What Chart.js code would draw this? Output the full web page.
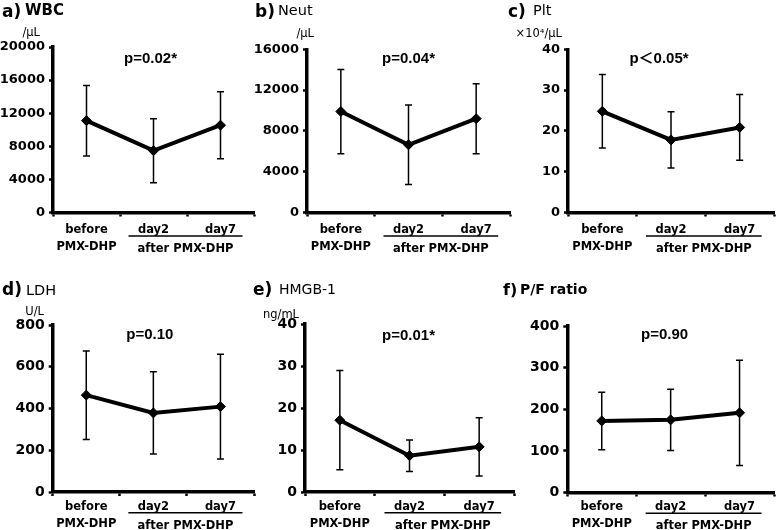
<!DOCTYPE html>
<html><head><meta charset="utf-8">
<script src="https://cdn.jsdelivr.net/npm/chart.js@4"></script>
<style>
html,body{margin:0;padding:0;background:#fff;}
#wrap{position:relative;width:780px;height:530px;overflow:hidden;background:#fff}
canvas{position:absolute}
svg{position:absolute;left:0;top:0}
</style></head><body>
<div id="wrap">
<canvas id="c0"></canvas>
<canvas id="c1"></canvas>
<canvas id="c2"></canvas>
<canvas id="c3"></canvas>
<canvas id="c4"></canvas>
<canvas id="c5"></canvas>
<svg width="780" height="530" font-family="DejaVu Sans" fill="#000">
  <text x="2" y="17" font-weight="bold" font-size="17">a)</text>
  <text x="25" y="14.5" font-weight="bold" font-size="15">WBC</text>
  <text x="255" y="17" font-weight="bold" font-size="17">b)</text>
  <text x="278" y="15" font-size="14.5">Neut</text>
  <text x="508" y="17" font-weight="bold" font-size="17">c)</text>
  <text x="533" y="14.5" font-size="14.5">Plt</text>
  <text x="2" y="295" font-weight="bold" font-size="17">d)</text>
  <text x="26" y="295" font-size="14.5">LDH</text>
  <text x="253" y="295" font-weight="bold" font-size="17">e)</text>
  <text x="279" y="294" font-size="14">HMGB-1</text>
  <text x="503" y="295" font-weight="bold" font-size="16">f)</text>
  <text x="520" y="294" font-weight="bold" font-size="14">P/F ratio</text>
  <text x="40" y="36" text-anchor="end" font-size="11.5">/μL</text>
  <text x="314" y="37" text-anchor="end" font-size="11.5">/μL</text>
  <text x="562" y="37" text-anchor="end" font-size="11.5">×10⁴/μL</text>
  <text x="44" y="315" text-anchor="end" font-size="11.5">U/L</text>
  <text x="299" y="318" text-anchor="end" font-size="11.5">ng/mL</text>
</svg>
</div>
<script>
// ---- data ----
const categories = [['before','PMX-DHP'], 'day2', 'day7'];
const groupLabel = 'after PMX-DHP';
const wbcMean  = [11100, 7470, 10550];
const wbcSD    = [4260, 3860, 4040];
const neutMean = [9900, 6640, 9200];
const neutSD   = [4130, 3900, 3430];
const pltMean  = [24.8, 17.8, 20.85];
const pltSD    = [9.0, 6.9, 8.05];
const ldhMean  = [464, 379, 409];
const ldhSD    = [212, 197, 251];
const hmgbMean = [17.1, 8.65, 10.75];
const hmgbSD   = [11.8, 3.75, 6.95];
const pfMean   = [172, 174.5, 191.5];
const pfSD     = [69, 73.5, 126.5];
const yMax  = [20000, 16000, 40, 800, 40, 400];
const yStep = [4000, 4000, 10, 200, 10, 100];
const pValues = ['p=0.02*', 'p=0.04*', 'p\uFF1C0.05*', 'p=0.10', 'p=0.01*', 'p=0.90'];

const means = [wbcMean, neutMean, pltMean, ldhMean, hmgbMean, pfMean];
const sds   = [wbcSD, neutSD, pltSD, ldhSD, hmgbSD, pfSD];

// ---- layout (coords relative to each 260x265 cell) ----
const layout = [
  {col:0, row:0, L:53,   R:257, T:47,   B:212.5, pdx:-3,  pdy:15.5},
  {col:1, row:0, L:47,   R:250, T:49.3, B:212.5, pdx:0,   pdy:13.5},
  {col:2, row:0, L:48,   R:257, T:49.3, B:212.5, pdx:-12, pdy:13.5},
  {col:0, row:1, L:52.7, R:259, T:60,   B:227,   pdx:-3.5,pdy:13.5},
  {col:1, row:1, L:45,   R:255, T:59,   B:227,   pdx:-1,  pdy:16},
  {col:2, row:1, L:47.3, R:254, T:61,   B:227.5, pdx:-6,  pdy:12.5}
];

function makePlugin(k) {
  const lay = layout[k];
  return {
    id: 'annot' + k,
    beforeDatasetsDraw(chart) {
      const {ctx, scales: {x, y}} = chart;
      ctx.save();
      ctx.strokeStyle = '#000';
      ctx.lineWidth = 1.5;
      means[k].forEach((m, i) => {
        const px = x.getPixelForValue(i);
        const t = y.getPixelForValue(m + sds[k][i]);
        const b = y.getPixelForValue(m - sds[k][i]);
        ctx.beginPath();
        ctx.moveTo(px, t); ctx.lineTo(px, b);
        ctx.moveTo(px - 3.5, t); ctx.lineTo(px + 3.5, t);
        ctx.moveTo(px - 3.5, b); ctx.lineTo(px + 3.5, b);
        ctx.stroke();
      });
      ctx.restore();
    },
    afterDraw(chart) {
      const {ctx, chartArea, scales: {x}} = chart;
      ctx.save();
      ctx.fillStyle = '#000';
      ctx.strokeStyle = '#000';
      ctx.font = 'bold 15px "Liberation Sans", Arial, "Noto Sans CJK JP", sans-serif';
      ctx.textAlign = 'center';
      ctx.textBaseline = 'alphabetic';
      ctx.fillText(pValues[k], x.getPixelForValue(1) + lay.pdx, chartArea.top + lay.pdy);
      const ly = chartArea.bottom + (lay.row === 0 ? 23.5 : 20.7);
      const x1 = x.getPixelForValue(1) - 25, x2 = x.getPixelForValue(2) + 22;
      ctx.lineWidth = 1.6;
      ctx.beginPath(); ctx.moveTo(x1, ly); ctx.lineTo(x2, ly); ctx.stroke();
      ctx.font = 'bold 11.5px "DejaVu Sans", sans-serif';
      ctx.fillText(groupLabel, (x1 + x2) / 2, ly + 16);
      ctx.restore();
    }
  };
}

for (let k = 0; k < 6; k++) {
  const lay = layout[k];
  const ox = lay.col === 0 ? 0 : 30;          // extra room on the left for tick labels
  const cw = 260 + ox, ch = 265;
  const cv = document.getElementById('c' + k);
  cv.width = cw; cv.height = ch;
  cv.style.width = cw + 'px'; cv.style.height = ch + 'px';
  cv.style.left = (lay.col * 260 - ox) + 'px';
  cv.style.top = (lay.row * 265) + 'px';
  const Lc = lay.L + ox, Rc = lay.R + ox;
  const tickFont = {family: 'DejaVu Sans', weight: 'bold', size: lay.row === 0 ? 13 : 14};
  new Chart(cv, {
    type: 'line',
    data: {
      labels: categories,
      datasets: [{
        data: means[k],
        borderColor: '#000',
        backgroundColor: '#000',
        borderWidth: 4,
        pointStyle: 'rectRot',
        pointRadius: 5,
        pointBorderWidth: 1,
        pointBackgroundColor: '#000',
        pointBorderColor: '#000',
        tension: 0,
        clip: false
      }]
    },
    options: {
      responsive: false,
      devicePixelRatio: 1,
      animation: false,
      events: [],
      layout: {padding: {left: 0, top: lay.T, right: cw - Rc, bottom: 0}},
      plugins: {legend: {display: false}, tooltip: {enabled: false}, title: {display: false}},
      scales: {
        x: {
          type: 'category',
          offset: true,
          afterFit: s => { s.height = ch - lay.B; },
          grid: {display: true, drawOnChartArea: false, drawTicks: true, tickLength: 4, tickWidth: 2.5, tickColor: '#000', offset: true},
          border: {display: true, color: '#000', width: 3.5},
          ticks: {color: '#000', font: {family: 'DejaVu Sans', weight: 'bold', size: 11.5, lineHeight: 1.5}, padding: lay.row === 0 ? 4.7 : 2, maxRotation: 0, autoSkip: false}
        },
        y: {
          min: 0, max: yMax[k],
          afterFit: s => { s.width = Lc; },
          grid: {display: true, drawOnChartArea: false, drawTicks: true, tickLength: 4, tickWidth: 2.5, tickColor: '#000'},
          border: {display: true, color: '#000', width: 3.5},
          ticks: {stepSize: yStep[k], color: '#000', font: tickFont, padding: 4, callback: v => String(v)}
        }
      }
    },
    plugins: [makePlugin(k)]
  });
}
</script>
</body></html>
